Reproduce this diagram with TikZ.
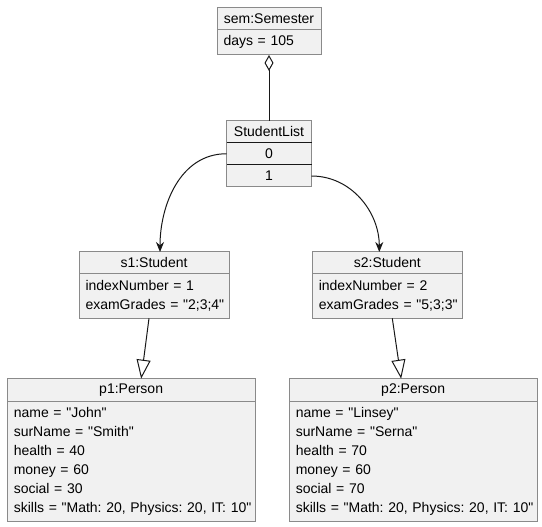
\documentclass[tikz,border=0pt]{standalone}
\usepackage{fontspec}
\setmainfont{Liberation Sans}[Ligatures=TeXOff]
\usepackage{tikz}
\usetikzlibrary{arrows.meta,positioning}
\definecolor{boxgray}{HTML}{8A8A8A}
\definecolor{boxfill}{HTML}{F1F1F1}
\definecolor{linedark}{HTML}{181818}
\frenchspacing

\begin{document}
\begin{tikzpicture}[
    x=1pt, y=1pt,
    node distance=0pt,
    objhead/.style={rectangle, draw=boxgray, fill=boxfill, line width=1pt, inner sep=0pt, outer sep=0pt, font=\fontsize{14}{19}\selectfont, minimum height=21.5pt},
    objbody/.style={rectangle, draw=boxgray, fill=boxfill, line width=1pt, inner xsep=2.5pt, inner ysep=0pt, outer sep=0pt, font=\fontsize{14}{19}\selectfont, align=left, execute at begin node={\leftskip=4pt}},
    assoc/.style={-{Stealth[length=10pt,width=8pt]}, linedark, line width=1pt},
    aggr/.style={{Diamond[open,length=16pt,width=9pt]}-, linedark, line width=1pt},
    inherit/.style={-{Triangle[open,length=19pt,width=14pt]}, linedark, line width=1pt},
    divider/.style={linedark, line width=1pt}
]
\useasboundingbox (0,0) rectangle (542,-527);

% semester and list
\node[objhead, minimum width=104pt] (sem) at (269,-18.5) {sem:Semester};
\node[objbody, text width=99pt, minimum height=25.7pt, below=of sem] (semattr) {days = 105};

\node[objhead, minimum width=85pt] (list) at (269,-131.75) {StudentList};
\node[objhead, minimum width=85pt, minimum height=22.5pt, below=of list] (item0) {0};
\node[objhead, minimum width=85pt, minimum height=22pt, below=of item0] (item1) {1};
\draw[divider] (list.south west) -- (list.south east);
\draw[divider] (item0.south west) -- (item0.south east);

% students
\node[objhead, minimum width=150pt] (s1) at (154,-262.75) {s1:Student};
\node[objbody, text width=145pt, minimum height=44.8pt, below=of s1] (s1attr) {indexNumber = 1\\examGrades = "2;3;4"};

\node[objhead, minimum width=150pt] (s2) at (387.3,-262.75) {s2:Student};
\node[objbody, text width=145pt, minimum height=44.8pt, below=of s2] (s2attr) {indexNumber = 2\\examGrades = "5;3;3"};

% persons
\node[objhead, minimum width=247.7pt, minimum height=23pt] (p1) at (131.15,-390.2) {p1:Person};
\node[objbody, text width=242.7pt, minimum height=120pt, below=of p1] (p1attr) {name = "John"\\surName = "Smith"\\health = 40\\money = 60\\social = 30\\skills = "Math: 20, Physics: 20, IT: 10"};

\node[objhead, minimum width=247.7pt, minimum height=23pt] (p2) at (413.15,-390.2) {p2:Person};
\node[objbody, text width=242.7pt, minimum height=120pt, below=of p2] (p2attr) {name = "Linsey"\\surName = "Serna"\\health = 70\\money = 60\\social = 70\\skills = "Math: 20, Physics: 20, IT: 10"};

\draw[aggr] (semattr.south) -- (list.north);
\draw[assoc] (item0.west) to[out=180,in=90] ([xshift=6pt]s1.north);
\draw[assoc] (item1.east) to[out=0,in=90] ([xshift=-8pt]s2.north);
\draw[inherit] ([xshift=-5pt]s1attr.south) -- ([xshift=10pt]p1.north);
\draw[inherit] ([xshift=5pt]s2attr.south) -- ([xshift=-12pt]p2.north);
\end{tikzpicture}
\end{document}
